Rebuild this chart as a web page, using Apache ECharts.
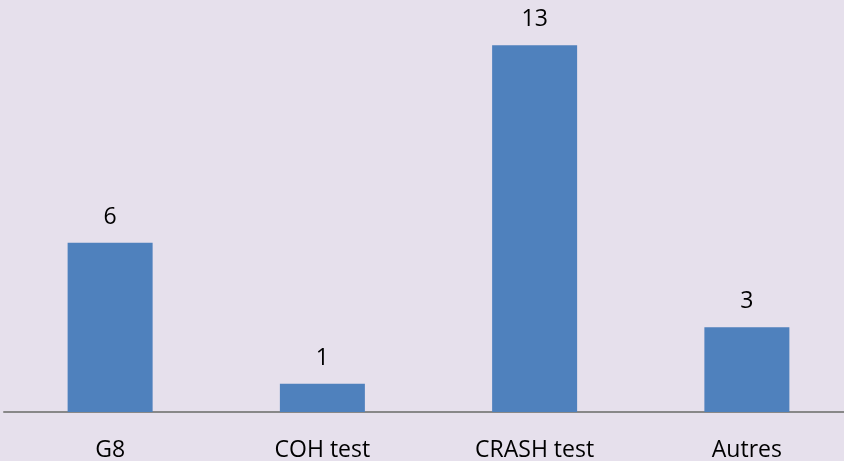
<!DOCTYPE html>
<html>
<head>
<meta charset="utf-8">
<script src="https://cdn.jsdelivr.net/npm/echarts@6/dist/echarts.min.js"></script>
<style>
  html, body { margin: 0; padding: 0; background: #e6e0ec; }
  #main { width: 844px; height: 461px; }
</style>
</head>
<body>
<div id="main"></div>
<script>
// categories and counts
var categories = ['G8', 'COH test', 'CRASH test', 'Autres'];
var counts = [6, 1, 13, 3];

var myChart = echarts.init(document.getElementById('main'));
myChart.setOption({
  backgroundColor: '#e6e0ec',
  animation: false,
  textStyle: { fontFamily: 'Open Sans' },
  grid: { left: 4, width: 849, top: 17, bottom: 49, outerBoundsMode: 'none' },
  xAxis: {
    type: 'category',
    data: categories,
    axisTick: { show: false },
    axisLine: { lineStyle: { color: '#888888', width: 2 } },
    axisLabel: { color: '#000', fontSize: 23, margin: 27, fontFamily: 'Open Sans' }
  },
  yAxis: {
    type: 'value',
    min: 0,
    max: 14,
    show: false,
    splitLine: { show: false }
  },
  series: [{
    type: 'bar',
    data: counts,
    barWidth: 85,
    itemStyle: { color: '#4f81bd' },
    label: {
      show: true,
      position: 'top',
      distance: 14,
      color: '#000',
      fontSize: 23,
      fontFamily: 'Open Sans'
    }
  }]
});
</script>
</body>
</html>
